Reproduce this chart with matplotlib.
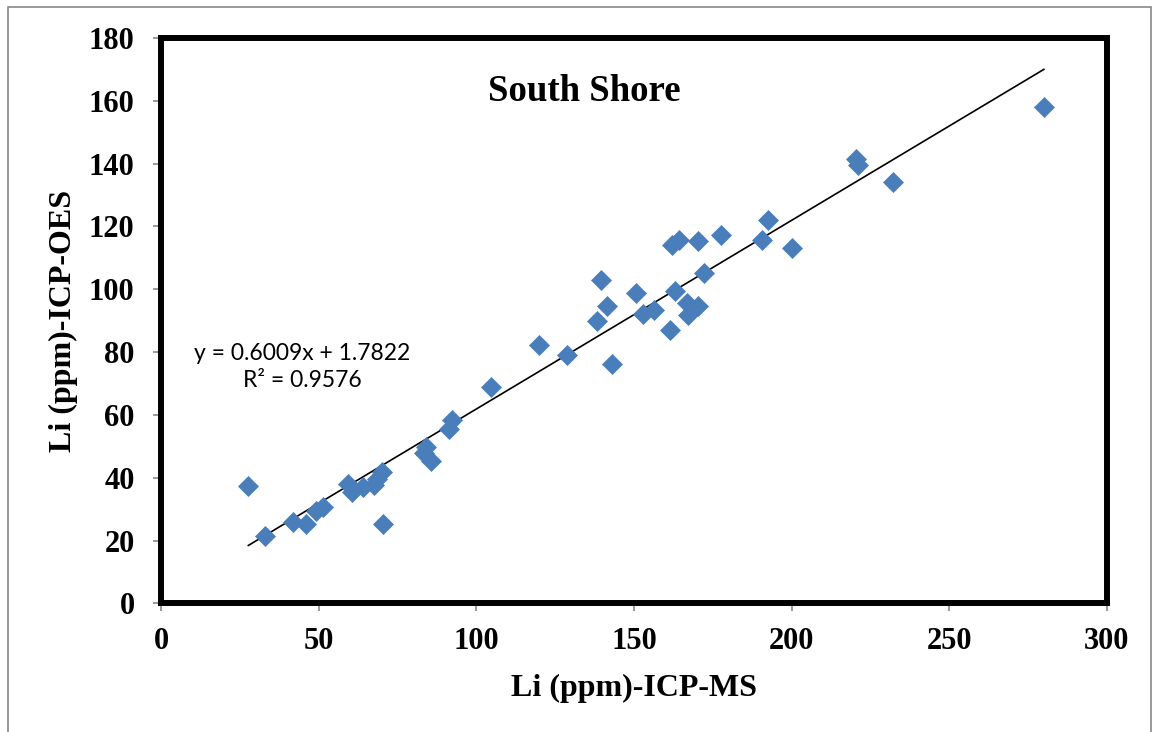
import numpy as np
import matplotlib
matplotlib.use('Agg')
import matplotlib.pyplot as plt
from matplotlib.patches import Rectangle

# Li by ICP-MS (x) vs ICP-OES (y), South Shore samples
icp_ms = [27.7, 33.1, 41.8, 45.9, 49.0, 51.5, 59.2, 60.6, 64.2, 67.4,
          68.6, 70.2, 70.5, 83.3, 84.0, 85.5, 91.3, 92.4, 104.8, 119.8,
          128.8, 138.2, 139.6, 141.6, 143.0, 150.6, 152.9, 156.2, 161.5, 162.1,
          164.2, 162.9, 166.9, 167.2, 170.2, 170.4, 172.1, 177.6, 190.5, 192.5,
          200.0, 220.4, 221.2, 232.3, 280.0]
icp_oes = [37.5, 21.4, 25.9, 25.3, 29.4, 30.8, 38.1, 35.6, 36.9, 37.8,
           39.5, 41.8, 25.3, 47.9, 49.9, 45.2, 55.6, 58.3, 69.0, 82.1,
           79.1, 89.9, 103.0, 94.6, 76.1, 98.7, 92.1, 93.3, 87.1, 114.1,
           115.6, 99.3, 95.5, 91.8, 94.8, 115.4, 105.3, 117.3, 115.7, 122.0,
           113.1, 141.4, 139.7, 134.1, 158.0]

slope = 0.6009
intercept = 1.7822
r2 = 0.9576
x_ticks = [0, 50, 100, 150, 200, 250, 300]
y_ticks = [0, 20, 40, 60, 80, 100, 120, 140, 160, 180]

serif = ['Liberation Serif', 'DejaVu Serif']

fig = plt.figure(figsize=(11.55, 7.32), dpi=100)
ax = fig.add_axes([0.1394, 0.1758, 0.8190, 0.7722])

ax.plot(icp_ms, icp_oes, linestyle='none', marker='D', markersize=10.5,
        color='#4A7EBB', markeredgecolor='#4A7EBB', markeredgewidth=0.5, zorder=3)

# linear trendline over data range
xs = np.array([min(icp_ms), max(icp_ms)])
ax.plot(xs, slope * xs + intercept, color='black', linewidth=1.2, zorder=2)

ax.text(44.9, 75.2, 'y = %.4fx + %.4f\nR² = %.4f' % (slope, intercept, r2),
        family=['Lato', 'DejaVu Sans'], fontsize=16.5, ha='center', va='center',
        multialignment='center', linespacing=1.35)

ax.text(0.447, 0.905, 'South Shore', transform=ax.transAxes, ha='center', va='center',
        family=serif, fontsize=26.5, fontweight='bold')

ax.set_xlim(0, 300)
ax.set_ylim(0, 180)
ax.set_xticks(x_ticks)
ax.set_yticks(y_ticks)
ax.set_xticklabels([str(t) for t in x_ticks], family=serif, fontsize=22, fontweight='bold')
ax.set_yticklabels([str(t) for t in y_ticks], family=serif, fontsize=22, fontweight='bold')
ax.tick_params(axis='both', direction='out', length=6, width=1.2, color='#888888')
ax.tick_params(axis='x', pad=11)
ax.tick_params(axis='y', pad=13)

ax.set_xlabel('Li (ppm)-ICP-MS', family=serif, fontsize=23, fontweight='bold', labelpad=13)
ax.set_ylabel('Li (ppm)-ICP-OES', family=serif, fontsize=23, fontweight='bold', labelpad=8)

for sp in ax.spines.values():
    sp.set_linewidth(4.3)
    sp.set_color('black')

# thin grey frame around the whole chart
fig.patches.append(Rectangle((8 / 1155, -0.01), 1143 / 1155, 1 - 7 / 732 + 0.01,
                             transform=fig.transFigure, fill=False,
                             edgecolor='#888888', linewidth=1.2))

fig.savefig('out.png', dpi=100)
